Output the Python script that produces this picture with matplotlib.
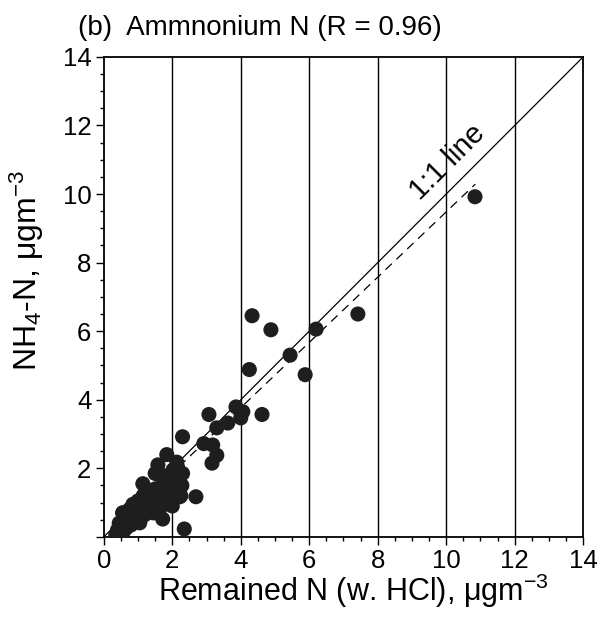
import numpy as np
import matplotlib
matplotlib.use("Agg")
import matplotlib.pyplot as plt

plt.rcParams['font.family'] = ['Liberation Sans', 'DejaVu Sans']
plt.rcParams['mathtext.fontset'] = 'custom'
plt.rcParams['mathtext.rm'] = 'Liberation Sans'
plt.rcParams['mathtext.it'] = 'Liberation Sans:italic'

# Remained N (w. HCl) vs NH4-N, ugm-3
remained_n = [0.35, 0.45, 0.55, 0.40, 0.50, 0.45, 0.60, 0.55, 0.70, 0.75,
              0.80, 0.90, 0.85, 0.95, 1.00, 1.05, 1.10, 1.15, 1.20, 1.25,
              1.30, 1.35, 1.40, 1.45, 1.50, 1.55, 1.60, 1.65, 1.70, 1.75,
              1.80, 1.85, 1.90, 1.95, 2.00, 2.05, 2.10, 2.15, 2.20, 2.25,
              2.30, 2.00, 1.14, 1.50, 1.58, 1.84, 2.13, 2.30, 2.69, 2.22,
              1.72, 2.35, 2.28, 2.02, 0.56, 0.65, 1.05, 1.93, 1.70, 1.90,
              2.92, 3.18, 3.30, 3.16, 3.07, 3.30, 3.62, 3.86, 4.06, 4.00,
              4.62, 4.25, 4.33, 4.88, 5.44, 5.88, 6.20, 7.42, 10.84]
nh4_n = [0.05, 0.05, 0.10, 0.20, 0.30, 0.40, 0.45, 0.70, 0.55, 0.80,
         0.35, 0.60, 0.95, 0.75, 1.05, 0.45, 0.85, 1.20, 0.65, 1.00,
         1.30, 0.90, 1.15, 0.70, 1.40, 1.00, 1.25, 0.85, 1.50, 1.10,
         1.35, 1.65, 1.00, 1.20, 1.55, 1.85, 1.30, 2.05, 1.60, 1.20,
         1.85, 0.90, 1.55, 1.85, 2.10, 2.40, 2.18, 2.92, 1.17, 1.17,
         0.52, 0.23, 1.50, 1.95, 0.70, 0.25, 0.41, 1.00, 1.80, 1.75,
         2.72, 2.68, 2.38, 2.15, 3.57, 3.18, 3.32, 3.79, 3.65, 3.47,
         3.57, 4.88, 6.45, 6.04, 5.30, 4.73, 6.06, 6.50, 9.92]

# regression line (dashed)
reg_slope = 0.952
reg_intercept = -0.04
reg_x = [0.3, 10.85]

fig = plt.figure(figsize=(6, 6.25), dpi=100)
ax = fig.add_axes([0.173, 0.141, 0.799, 0.768])

for gx in range(2, 14, 2):
    ax.axvline(gx, color='black', lw=1.0, zorder=1)

ax.plot([0, 14], [0, 14], color='black', lw=0.9, zorder=2)
rx = np.array(reg_x)
ax.plot(rx, reg_slope * rx + reg_intercept, color='black', lw=0.9,
        dashes=(7, 5), zorder=2)
ax.scatter(remained_n, nh4_n, s=118, color='#1e1e1e', edgecolors='none', zorder=3)

ax.text(10.03, 10.93, '1:1 line', rotation=45, ha='center', va='center',
        fontsize=21, rotation_mode='anchor')

ax.set_xlim(0, 14)
ax.set_ylim(0, 14)
ax.set_xticks(range(0, 15, 2))
ax.set_yticks(range(0, 15, 2))
ax.set_yticklabels([''] + [str(v) for v in range(2, 15, 2)])
ax.set_xticks(np.arange(0, 14.01, 0.5), minor=True)
ax.set_yticks(np.arange(0, 14.01, 0.5), minor=True)
ax.tick_params(which='major', direction='out', length=6, width=1.0,
               labelsize=18.5, pad=3)
ax.tick_params(which='minor', direction='out', length=3, width=1.0)
for sp in ax.spines.values():
    sp.set_linewidth(1.3)

ax.set_xlabel('Remained N (w. HCl), μgm$^{-3}$', fontsize=22)
ax.set_ylabel('NH$_4$-N, μgm$^{-3}$', fontsize=23)
ax.xaxis.set_label_coords(0.52, -0.072, transform=ax.transAxes)
ax.xaxis.label.set_va('top')
ax.yaxis.set_label_coords(-0.12, 0.556, transform=ax.transAxes)

fig.text(0.13, 0.944, '(b)  Ammnonium N (R = 0.96)', fontsize=20,
         ha='left', va='baseline')

fig.savefig('out.png', dpi=100)
